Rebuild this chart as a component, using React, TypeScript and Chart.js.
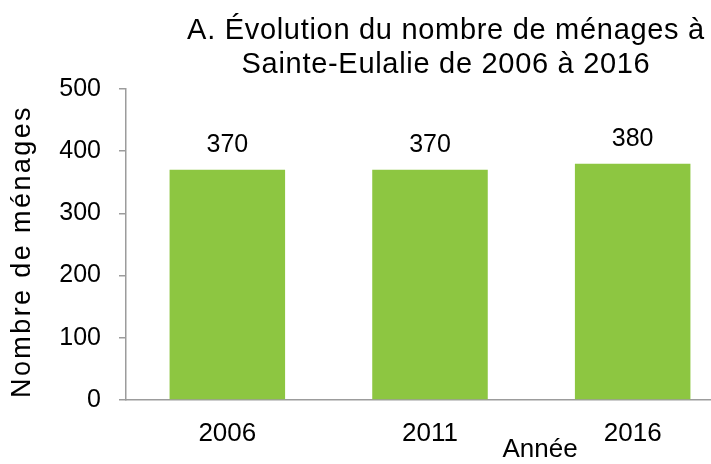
import React, { useEffect, useRef } from "react";
import { Chart, registerables } from "chart.js";

Chart.register(...registerables);

const categories = ["2006", "2011", "2016"];
const households = [370, 370, 380];
const yTicks = [0, 100, 200, 300, 400, 500];
const titleLines = ["A. Évolution du nombre de ménages à", "Sainte-Eulalie de 2006 à 2016"];
const yTitle = "Nombre de ménages";
const xTitle = "Année";

const FONT = "'Liberation Sans', Arial, sans-serif";
const AXIS = "#9c9c9c";

function setSpacing(ctx: any, px: number) {
  if ("letterSpacing" in ctx) ctx.letterSpacing = px + "px";
}

const valueLabels = {
  id: "valueLabels",
  afterDatasetsDraw(chart: any) {
    const ctx = chart.ctx;
    const meta = chart.getDatasetMeta(0);
    ctx.save();
    ctx.font = `25px ${FONT}`;
    ctx.fillStyle = "#000";
    ctx.textAlign = "center";
    ctx.textBaseline = "alphabetic";
    meta.data.forEach((bar: any, i: number) => {
      ctx.fillText(String(chart.data.datasets[0].data[i]), bar.x, bar.y - 18);
    });
    ctx.restore();
  },
};

const textDecor = {
  id: "textDecor",
  afterDraw(chart: any) {
    const { ctx, chartArea } = chart;
    ctx.save();
    ctx.fillStyle = "#000";
    ctx.textBaseline = "alphabetic";
    ctx.textAlign = "center";
    // chart title
    ctx.font = `29px ${FONT}`;
    setSpacing(ctx, 0.7);
    ctx.fillText(titleLines[0], chart.width / 2, chartArea.top - 50);
    ctx.fillText(titleLines[1], chart.width / 2, chartArea.top - 16);
    // x axis title
    ctx.font = `26px ${FONT}`;
    setSpacing(ctx, 0);
    ctx.fillText(xTitle, chartArea.left + (chartArea.right - chartArea.left) * 0.681, chartArea.bottom + 57);
    // y axis title
    ctx.save();
    ctx.translate(30, (chartArea.top + chartArea.bottom) / 2 + 7);
    ctx.rotate(-Math.PI / 2);
    ctx.font = `27px ${FONT}`;
    setSpacing(ctx, 2.4);
    ctx.fillText(yTitle, 0, 0);
    ctx.restore();
    ctx.restore();
  },
};

export default function App() {
  const ref = useRef<HTMLCanvasElement>(null);
  useEffect(() => {
    document.body.style.margin = "0";
    const chart = new Chart(ref.current!, {
      type: "bar",
      data: {
        labels: categories,
        datasets: [
          {
            data: households,
            backgroundColor: "#8dc641",
            categoryPercentage: 0.57,
            barPercentage: 1,
          },
        ],
      },
      options: {
        animation: false,
        responsive: true,
        maintainAspectRatio: false,
        layout: { padding: { left: 0, right: 158, top: 89, bottom: 0 } },
        plugins: {
          legend: { display: false },
          tooltip: { enabled: false },
          title: { display: false },
        },
        scales: {
          x: {
            afterFit: (s: any) => {
              s.height = 64;
            },
            grid: { display: false, drawTicks: false },
            border: { display: true, color: AXIS, width: 1.5 },
            ticks: { color: "#000", font: { family: FONT, size: 26 }, padding: 18 },
          },
          y: {
            min: 0,
            max: 500,
            afterFit: (s: any) => {
              s.width = 126;
            },
            afterBuildTicks: (axis: any) => {
              axis.ticks = yTicks.map((v) => ({ value: v }));
            },
            grid: { drawOnChartArea: false, drawTicks: true, tickLength: 7, color: AXIS, lineWidth: 1.5 },
            border: { display: true, color: AXIS, width: 1.5 },
            ticks: { color: "#000", font: { family: FONT, size: 25 }, padding: 18 },
          },
        },
      },
      plugins: [valueLabels, textDecor],
    });
    return () => chart.destroy();
  }, []);
  return (
    <div style={{ position: "fixed", left: 0, top: 0, width: 711, height: 464, overflow: "hidden", background: "#fff" }}>
      <div style={{ position: "relative", width: 892, height: 464 }}>
        <canvas ref={ref} />
      </div>
    </div>
  );
}
